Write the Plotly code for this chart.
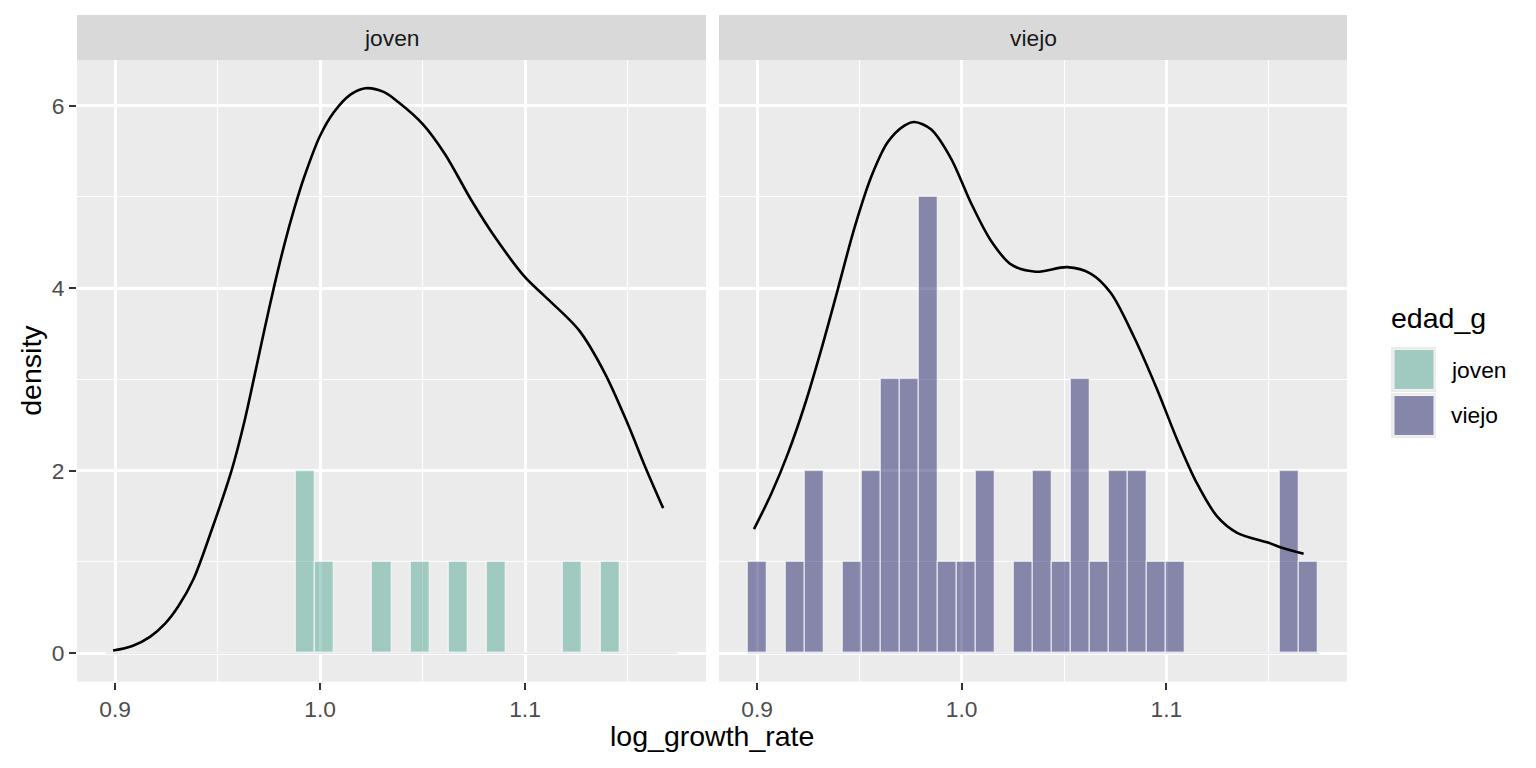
import plotly.graph_objects as go

# ---------------- data ----------------
groups = ["joven", "viejo"]
data_min = 0.9000
data_max = 1.1697
n_bins = 30

joven_counts = [0, 0, 0, 0, 0, 0, 0, 0, 0, 0,
                2, 1, 0, 0, 1, 0, 1, 0, 1, 0,
                1, 0, 0, 0, 1, 0, 1, 0, 0, 0]
viejo_counts = [1, 0, 1, 2, 0, 1, 2, 3, 3, 5,
                1, 1, 2, 0, 1, 2, 1, 3, 1, 2,
                2, 1, 1, 0, 0, 0, 0, 0, 2, 1]

joven_dens_x = [0.8990, 0.9084, 0.9170, 0.9246, 0.9310, 0.9382, 0.9471, 0.9568,
                0.9632, 0.9681, 0.9729, 0.9777, 0.9826, 0.9874, 0.9923, 1.0000,
                1.0068, 1.0148, 1.0221, 1.0310, 1.0381, 1.0500, 1.0609, 1.0739,
                1.0853, 1.1000, 1.1097, 1.1263, 1.1389, 1.1500, 1.1585, 1.1674]
joven_dens_y = [0.03, 0.08, 0.18, 0.33, 0.52, 0.81, 1.35, 2.00,
                2.55, 3.05, 3.55, 4.03, 4.48, 4.87, 5.22, 5.67,
                5.93, 6.12, 6.19, 6.15, 6.04, 5.80, 5.47, 4.96,
                4.56, 4.12, 3.91, 3.54, 3.07, 2.52, 2.05, 1.59]

viejo_dens_x = [0.8985, 0.9070, 0.9151, 0.9233, 0.9314, 0.9395, 0.9476, 0.9558,
                0.9639, 0.9720, 0.9769, 0.9850, 0.9948, 1.0046, 1.0143, 1.0241,
                1.0362, 1.0516, 1.0630, 1.0728, 1.0841, 1.0955, 1.1053, 1.1150,
                1.1248, 1.1346, 1.1500, 1.1573, 1.1671]
viejo_dens_y = [1.36, 1.75, 2.19, 2.72, 3.33, 3.99, 4.66, 5.22,
                5.60, 5.78, 5.82, 5.74, 5.42, 4.93, 4.52, 4.26,
                4.18, 4.23, 4.16, 3.95, 3.47, 2.89, 2.34, 1.86,
                1.50, 1.32, 1.21, 1.15, 1.09]

x_ticks = [0.9, 1.0, 1.1]
x_tick_text = ["0.9", "1.0", "1.1"]
y_ticks = [0, 2, 4, 6]
y_tick_text = ["0", "2", "4", "6"]

# ---------------- styling ----------------
OFF = 8                      # page body margin of the rendered html
W, H = 1536 - 2 * OFF, 768 - 2 * OFF
FONT = "Liberation Sans"
TICK_SIZE = 22.8
TITLE_SIZE = 28.5
fills = {"joven": "rgba(85,167,147,0.5)", "viejo": "rgba(33,33,107,0.5)"}
key_fills = {"joven": "#a0c9bf", "viejo": "#8686ab"}

bw = (data_max - data_min) / (n_bins - 1)
centers = [data_min + i * bw for i in range(n_bins)]
edge_lo = data_min - bw / 2
edge_hi = data_max + bw / 2
pad = (edge_hi - edge_lo) * 0.05
x_range = [edge_lo - pad, edge_hi + pad]
y_max = max(max(joven_dens_y), max(viejo_dens_y), max(joven_counts), max(viejo_counts))
y_range = [-0.05 * y_max, y_max * 1.05]


def px(x):
    return (x - OFF) / W


def py(y):
    return 1 - (y - OFF) / H


panel_px = {"joven": (77, 706), "viejo": (719, 1347)}
panel_top, panel_bot = 60, 681.5
strip_top = 15

fig = go.Figure()
counts = {"joven": joven_counts, "viejo": viejo_counts}
dens = {"joven": (joven_dens_x, joven_dens_y), "viejo": (viejo_dens_x, viejo_dens_y)}

for k, g in enumerate(groups):
    xa = "x" if k == 0 else "x2"
    ya = "y" if k == 0 else "y2"
    # zero baseline of the histogram (outline of empty bins)
    fig.add_trace(go.Scatter(x=[edge_lo, edge_hi], y=[0, 0], mode="lines",
                             line=dict(color="#e4e6ee", width=1.5),
                             xaxis=xa, yaxis=ya, showlegend=False, hoverinfo="skip"))
    xs = [c for c, n in zip(centers, counts[g]) if n > 0]
    ys = [n for n in counts[g] if n > 0]
    fig.add_trace(go.Bar(x=xs, y=ys, width=bw, name=g,
                         marker=dict(color=fills[g],
                                     line=dict(color="rgba(255,255,255,0.6)", width=1.4)),
                         xaxis=xa, yaxis=ya, showlegend=False))
    dx, dy = dens[g]
    fig.add_trace(go.Scatter(x=dx, y=dy, mode="lines", line_shape="spline",
                             line=dict(color="black", width=2.6, smoothing=0.9),
                             xaxis=xa, yaxis=ya, showlegend=False))

axis_common = dict(
    range=x_range, tickvals=x_ticks, ticktext=x_tick_text, showgrid=True,
    gridcolor="white", gridwidth=2.6, zeroline=False, ticks="outside", ticklen=7,
    tickcolor="#333333", tickwidth=2.2, showline=False,
    tickfont=dict(family=FONT, size=TICK_SIZE, color="#4d4d4d"),
    minor=dict(tickvals=[0.85, 0.95, 1.05, 1.15], showgrid=True, gridcolor="white",
               gridwidth=1.3, ticks=""),
)
y_common = dict(
    range=y_range, tickvals=y_ticks, ticktext=y_tick_text, showgrid=True,
    gridcolor="white", gridwidth=2.6, zeroline=False, showline=False,
    minor=dict(tickvals=[1, 3, 5], showgrid=True, gridcolor="white", gridwidth=1.3, ticks=""),
)

fig.update_layout(
    width=W, height=H,
    margin=dict(l=0, r=0, t=0, b=0),
    paper_bgcolor="white",
    plot_bgcolor="#ebebeb",
    bargap=0, barmode="overlay",
    xaxis=dict(domain=[px(panel_px["joven"][0]), px(panel_px["joven"][1])], anchor="y", **axis_common),
    xaxis2=dict(domain=[px(panel_px["viejo"][0]), px(panel_px["viejo"][1])], anchor="y2", **axis_common),
    yaxis=dict(domain=[py(panel_bot), py(panel_top)], anchor="x", ticks="outside", ticklen=7,
               tickcolor="#333333", tickwidth=2.2,
               tickfont=dict(family=FONT, size=TICK_SIZE, color="#4d4d4d"), **y_common),
    yaxis2=dict(domain=[py(panel_bot), py(panel_top)], anchor="x2", showticklabels=False,
                ticks="", **y_common),
    showlegend=False,
)

shapes = []
annotations = []
# strips
for g in groups:
    x0, x1 = panel_px[g]
    shapes.append(dict(type="rect", xref="paper", yref="paper", x0=px(x0), x1=px(x1),
                       y0=py(panel_top), y1=py(strip_top), fillcolor="#d9d9d9",
                       line=dict(width=0), layer="below"))
    annotations.append(dict(text=g, xref="paper", yref="paper", x=px((x0 + x1) / 2),
                            y=py((strip_top + panel_top) / 2), showarrow=False,
                            xanchor="center", yanchor="middle",
                            font=dict(family=FONT, size=TICK_SIZE, color="#1a1a1a")))

# axis titles
annotations.append(dict(text="log_growth_rate", xref="paper", yref="paper",
                        x=px((panel_px["joven"][0] + panel_px["viejo"][1]) / 2), y=py(736),
                        showarrow=False, xanchor="center", yanchor="middle",
                        font=dict(family=FONT, size=TITLE_SIZE, color="black")))
annotations.append(dict(text="density", xref="paper", yref="paper", x=px(31),
                        y=py((panel_top + panel_bot) / 2), showarrow=False, textangle=-90,
                        xanchor="center", yanchor="middle",
                        font=dict(family=FONT, size=TITLE_SIZE, color="black")))

# legend (drawn manually like ggplot's)
annotations.append(dict(text="edad_g", xref="paper", yref="paper", x=px(1389), y=py(318),
                        showarrow=False, xanchor="left", yanchor="middle",
                        font=dict(family=FONT, size=TITLE_SIZE, color="black")))
key_rows = {"joven": (347, 392), "viejo": (393, 438)}
for g in groups:
    t, b = key_rows[g]
    shapes.append(dict(type="rect", xref="paper", yref="paper", x0=px(1391), x1=px(1436),
                       y0=py(b), y1=py(t), fillcolor="#ebebeb", line=dict(width=0)))
    shapes.append(dict(type="rect", xref="paper", yref="paper", x0=px(1394), x1=px(1434),
                       y0=py(b - 2.5), y1=py(t + 2.5), fillcolor=key_fills[g],
                       line=dict(color="#f2f3f6", width=1)))
    annotations.append(dict(text=g, xref="paper", yref="paper", x=px(1449),
                            y=py((t + b) / 2), showarrow=False, xanchor="left",
                            yanchor="middle",
                            font=dict(family=FONT, size=TICK_SIZE, color="black")))

fig.update_layout(shapes=shapes, annotations=annotations)
fig.write_html("out.html")
